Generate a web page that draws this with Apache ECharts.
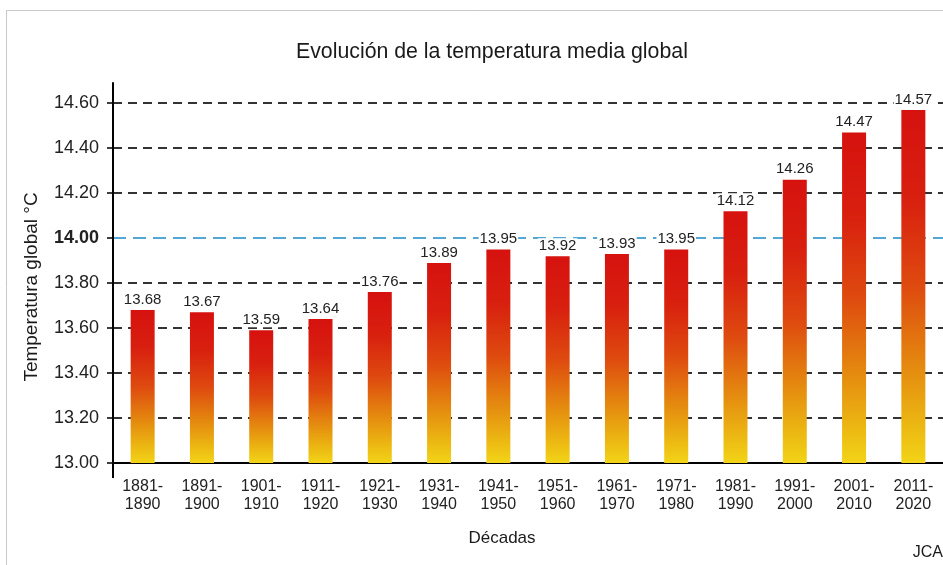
<!DOCTYPE html>
<html>
<head>
<meta charset="utf-8">
<script src="https://cdn.jsdelivr.net/npm/echarts@6/dist/echarts.min.js"></script>
<style>
html,body{margin:0;padding:0;background:#fff;}
#chart{width:943px;height:565px;}
</style>
</head>
<body>
<div id="chart"></div>
<script>
const categories = ['1881-\n1890','1891-\n1900','1901-\n1910','1911-\n1920','1921-\n1930','1931-\n1940','1941-\n1950','1951-\n1960','1961-\n1970','1971-\n1980','1981-\n1990','1991-\n2000','2001-\n2010','2011-\n2020'];
const temperatures = [13.68, 13.67, 13.59, 13.64, 13.76, 13.89, 13.95, 13.92, 13.93, 13.95, 14.12, 14.26, 14.47, 14.57];
const yTicks = [13.0, 13.2, 13.4, 13.6, 13.8, 14.0, 14.2, 14.4, 14.6];
const referenceTemp = 14.0;

const FONT = 'Liberation Sans, Arial, sans-serif';
const chart = echarts.init(document.getElementById('chart'), null, {renderer: 'canvas'});

const splitColors = yTicks.map(v => Math.abs(v - referenceTemp) < 1e-9 ? 'rgba(0,0,0,0)' : '#333333');

const option = {
  backgroundColor: '#ffffff',
  animation: false,
  title: {
    text: 'Evolución de la temperatura media global',
    left: 291, top: 37,
    textStyle: {fontFamily: FONT, fontSize: 21.3, fontWeight: 'normal', color: '#1a1a1a'}
  },
  grid: {left: 113, right: 0, top: 83, bottom: 102, containLabel: false, outerBoundsMode: 'none'},
  xAxis: {
    type: 'category',
    data: categories,
    axisLine: {show: true, lineStyle: {color: '#000', width: 2}},
    axisTick: {show: false},
    axisLabel: {fontFamily: FONT, fontSize: 16, color: '#222', lineHeight: 18, margin: 15, interval: 0}
  },
  yAxis: [{
    type: 'value',
    min: 13.0, max: 14.69, interval: 0.2,
    axisLine: {show: true, lineStyle: {color: '#000', width: 2}},
    axisTick: {show: true, length: 6, lineStyle: {color: '#000', width: 1.5}, customValues: yTicks},
    axisLabel: {
      customValues: yTicks,
      fontFamily: FONT, fontSize: 18, color: '#222', margin: 14,
      formatter: v => Math.abs(v - referenceTemp) < 1e-9 ? '{b|' + v.toFixed(2) + '}' : v.toFixed(2),
      rich: {b: {fontFamily: FONT, fontSize: 18, fontWeight: 'bold', color: '#222'}}
    },
    splitLine: {show: true, lineStyle: {color: splitColors, width: 2, type: [9, 6]}}
  }, {
    type: 'value',
    position: 'left',
    min: 13.0, max: 14.69, interval: 0.2,
    axisLine: {show: false},
    axisTick: {show: false, customValues: [referenceTemp]},
    axisLabel: {show: false, customValues: [referenceTemp]},
    splitLine: {show: true, lineStyle: {color: '#55a7d3', width: 2, type: [13, 7]}}
  }],
  series: [{
    type: 'bar',
    data: temperatures,
    barWidth: 24,
    itemStyle: {
      color: new echarts.graphic.LinearGradient(0, 0, 0, 1, [
        {offset: 0, color: '#d6120f'},
        {offset: 0.25, color: '#d8200f'},
        {offset: 0.5, color: '#de4a0f'},
        {offset: 0.72, color: '#e4880f'},
        {offset: 0.88, color: '#ebb412'},
        {offset: 1, color: '#f2d417'}
      ])
    },
    label: {
      show: true, position: 'top', distance: 3,
      fontFamily: FONT, fontSize: 15, color: '#222',
      backgroundColor: '#fff', padding: [0, 1],
      formatter: p => p.value.toFixed(2)
    }
  }],
  graphic: [
    {type: 'polyline', silent: true, shape: {points: [[6.5, 565], [6.5, 10.5], [943, 10.5]]}, style: {stroke: '#c8c8c8', lineWidth: 1, fill: null}},
    {type: 'text', silent: true, x: 32, y: 287, rotation: Math.PI / 2,
      style: {text: 'Temperatura global °C', fontFamily: FONT, fontSize: 19, fill: '#1a1a1a', align: 'center', verticalAlign: 'middle'}},
    {type: 'text', silent: true, x: 502, y: 538,
      style: {text: 'Décadas', fontFamily: FONT, fontSize: 17, fill: '#1a1a1a', align: 'center', verticalAlign: 'middle'}},
    {type: 'text', silent: true, x: 943, y: 553,
      style: {text: 'JCA', fontFamily: FONT, fontSize: 16, fill: '#1a1a1a', align: 'right', verticalAlign: 'middle'}}
  ]
};
chart.setOption(option);

// extend the y axis line slightly below the x axis, as in the reference
const base = chart.convertToPixel({gridIndex: 0}, [0, 13.0]);
chart.setOption({
  graphic: option.graphic.concat([
    {type: 'line', silent: true, shape: {x1: 113, y1: base[1], x2: 113, y2: base[1] + 15}, style: {stroke: '#000', lineWidth: 2}}
  ])
});
</script>
</body>
</html>
